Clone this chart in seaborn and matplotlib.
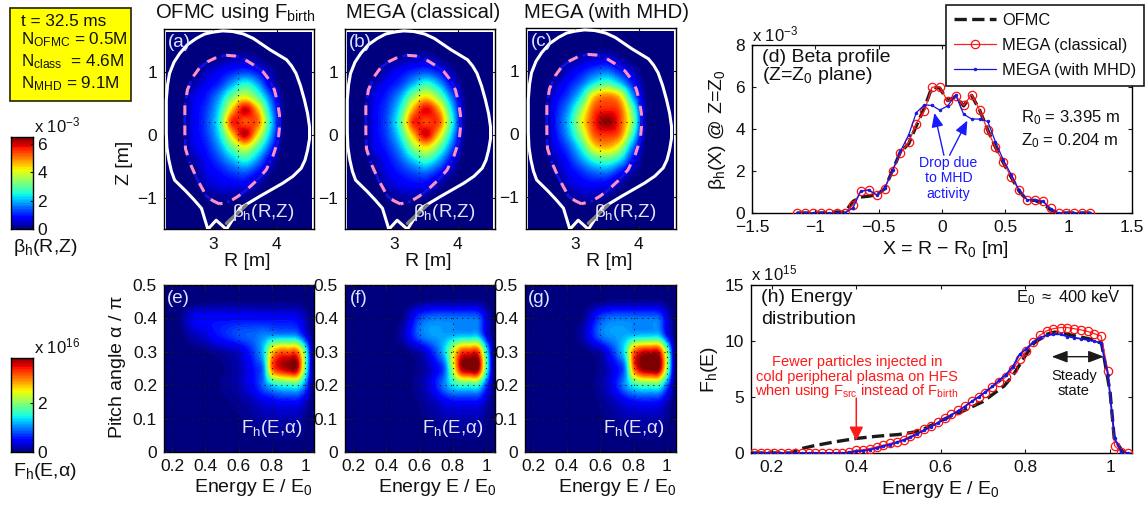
import numpy as np
import matplotlib
matplotlib.use("Agg")
import matplotlib.pyplot as plt
from matplotlib.patches import Rectangle
import seaborn as sns

W, H = 1148, 508

# ---- flux-surface geometry
wall_R = [2.92,2.82,2.70,2.58,2.49,2.40,2.35,2.31,2.28,2.27,2.27,2.29,2.32,2.39,2.48,2.60,2.74,2.87,3.00,3.15,3.31,3.48,3.63,3.76,3.89,4.02,4.15,4.23,4.30,4.37,4.43,4.48,4.51,4.51,4.48,4.44,4.38,4.25,4.09,3.73,3.42,3.21,3.05,2.92]
wall_Z = [-1.505,-1.17,-1.03,-0.90,-0.81,-0.72,-0.58,-0.40,-0.20,0.03,0.56,0.80,0.98,1.16,1.30,1.44,1.54,1.61,1.64,1.66,1.65,1.61,1.54,1.45,1.36,1.28,1.20,1.10,0.98,0.78,0.56,0.34,0.13,-0.06,-0.24,-0.40,-0.53,-0.66,-0.77,-0.98,-1.17,-1.505,-1.36,-1.505]
lcfs_R = [3.10,3.00,2.90,2.76,2.64,2.57,2.56,2.56,2.60,2.69,2.79,2.92,3.06,3.21,3.34,3.47,3.63,3.78,3.88,3.96,4.01,4.04,4.04,4.02,3.94,3.83,3.68,3.52,3.39,3.26,3.10]
lcfs_Z = [-1.10,-1.05,-0.98,-0.72,-0.45,-0.22,0.03,0.45,0.72,0.93,1.07,1.17,1.24,1.27,1.26,1.22,1.12,1.01,0.88,0.72,0.52,0.32,0.12,-0.08,-0.33,-0.56,-0.73,-0.88,-0.98,-1.06,-1.10]

# ---- beta_h(R,Z) grids: columns R = 2.3 ... 4.5 step .2, rows Z = 1.6 ... -1.4 step .2
beta_a = [
[0,0,0,0,0,0,0,0,0,0,0,0],
[0,0,0,0,0,0,0,0,0,0,0,0],
[0,0,0,.05,.15,.35,.4,.2,0,0,0,0],
[0,0,0,.4,.7,1.0,1.2,.9,.3,0,0,0],
[0,0,.3,.7,1.1,1.9,2.6,1.9,.6,0,0,0],
[0,0,.6,1.0,1.8,3.2,4.0,3.0,1.4,.1,0,0],
[0,0,.7,1.2,2.3,4.5,6.0,4.6,2.0,.2,0,0],
[0,0,.7,1.3,2.6,5.6,5.3,5.2,2.4,.2,0,0],
[0,0,.7,1.2,2.3,4.5,6.1,4.3,2.0,.15,0,0],
[0,0,.6,1.0,1.8,3.1,4.1,2.9,1.3,0,0,0],
[0,0,.3,.8,1.3,2.0,2.6,1.8,.6,0,0,0],
[0,0,.1,.6,.9,1.2,1.4,.9,.2,0,0,0],
[0,0,0,.4,.6,.7,.7,.3,0,0,0,0],
[0,0,0,.05,.2,.2,.15,0,0,0,0,0],
[0,0,0,0,0,0,0,0,0,0,0,0],
[0,0,0,0,0,0,0,0,0,0,0,0],
]
beta_b = [
[0,0,0,0,0,0,0,0,0,0,0,0],
[0,0,0,0,0,0,0,0,0,0,0,0],
[0,0,0,.05,.2,.4,.45,.2,0,0,0,0],
[0,0,0,.45,.8,1.1,1.3,.95,.3,0,0,0],
[0,0,.35,.8,1.2,2.0,2.7,2.0,.8,.05,0,0],
[0,0,.65,1.1,1.9,3.4,4.3,3.3,1.6,.15,0,0],
[0,0,.75,1.3,2.5,4.7,5.9,4.8,2.3,.25,0,0],
[0,0,.75,1.4,2.9,5.6,5.4,5.4,2.7,.25,0,0],
[0,0,.75,1.3,2.5,4.6,6.0,4.5,2.2,.2,0,0],
[0,0,.65,1.1,1.9,3.4,4.3,3.2,1.5,.05,0,0],
[0,0,.35,.85,1.4,2.2,2.8,2.0,.8,0,0,0],
[0,0,.15,.65,1.0,1.3,1.5,1.0,.3,0,0,0],
[0,0,0,.4,.65,.8,.75,.3,0,0,0,0],
[0,0,0,.05,.25,.25,.15,0,0,0,0,0],
[0,0,0,0,0,0,0,0,0,0,0,0],
[0,0,0,0,0,0,0,0,0,0,0,0],
]
beta_c = [
[0,0,0,0,0,0,0,0,0,0,0,0],
[0,0,0,0,0,0,0,0,0,0,0,0],
[0,0,0,.1,.3,.5,.55,.25,0,0,0,0],
[0,0,0,.5,.9,1.3,1.5,1.0,.4,0,0,0],
[0,0,.4,.9,1.5,2.4,2.9,2.2,1.0,.1,0,0],
[0,0,.7,1.3,2.4,4.4,5.0,4.4,1.9,.2,0,0],
[0,0,.9,1.8,3.4,5.3,5.6,5.3,3.0,.3,0,0],
[0,0,1.0,2.1,4.0,5.6,6.4,5.5,3.4,.3,0,0],
[0,0,.9,1.9,3.5,5.3,5.6,5.2,2.8,.2,0,0],
[0,0,.7,1.4,2.6,4.3,4.7,3.9,1.7,.1,0,0],
[0,0,.4,1.0,1.8,2.7,3.0,2.4,.9,0,0,0],
[0,0,.2,.7,1.1,1.5,1.6,1.0,.3,0,0,0],
[0,0,0,.45,.7,.8,.7,.3,0,0,0,0],
[0,0,0,.1,.3,.3,.15,0,0,0,0,0],
[0,0,0,0,0,0,0,0,0,0,0,0],
[0,0,0,0,0,0,0,0,0,0,0,0],
]

# ---- F_h(E,alpha) grids: columns E = .15 ... 1.05 step .05, rows alpha = .5 ... 0 step .05
fh_e = [
[0,0,0,0,0,0,0,0,0,0,0,0,0,0,0,0,0,0,0],
[0,0,0,0,.02,.03,.04,.05,.05,.05,.05,.05,.05,.05,.05,.05,.05,.03,0],
[0,0,.08,.3,.45,.5,.5,.5,.5,.5,.5,.5,.5,.5,.5,.5,.45,.25,0],
[0,0,.02,.15,.25,.35,.5,.6,.7,.8,.85,.9,1.0,1.05,1.05,1.05,1.0,.5,0],
[0,0,0,0,.02,.05,.1,.15,.2,.3,.5,.8,1.3,2.6,3.1,3.1,3.1,1.8,0],
[0,0,0,0,0,0,.03,.05,.1,.2,.35,.6,1.0,3.0,3.5,3.7,3.7,1.9,0],
[0,0,0,0,0,0,0,.08,.12,.2,.35,.55,.9,1.3,1.5,1.55,1.6,1.0,0],
[0,0,0,0,0,0,0,.03,.06,.1,.15,.25,.35,.42,.5,.5,.5,.3,0],
[0,0,0,0,0,0,0,0,.03,.05,.08,.12,.17,.2,.2,.2,.2,.1,0],
[0,0,0,0,0,0,0,0,0,.02,.03,.05,.07,.08,.08,.08,.08,.05,0],
[0,0,0,0,0,0,0,0,0,0,0,0,0,0,0,0,0,0,0],
]
fh_f = [
[0,0,0,0,0,0,0,0,0,0,0,0,0,0,0,0,0,0,0],
[0,0,0,0,0,0,0,0,.03,.07,.1,.12,.12,.12,.12,.12,.12,.05,0],
[0,0,0,0,0,0,0,.1,.4,.75,.9,.95,.95,.95,.95,.95,.9,.4,0],
[0,0,0,0,0,0,.05,.2,.55,.9,1.05,1.1,1.1,1.15,1.2,1.2,1.2,.5,0],
[0,0,0,0,0,0,0,.02,.1,.2,.45,.8,1.3,2.3,3.2,3.3,3.3,1.6,0],
[0,0,0,0,0,0,0,0,.03,.1,.2,.45,.85,2.2,3.6,3.85,3.85,1.8,0],
[0,0,0,0,0,0,0,0,.05,.15,.3,.6,1.0,1.4,1.6,1.6,1.6,.8,0],
[0,0,0,0,0,0,0,0,.02,.08,.15,.25,.4,.5,.5,.5,.5,.25,0],
[0,0,0,0,0,0,0,0,.02,.04,.08,.12,.18,.2,.2,.2,.2,.1,0],
[0,0,0,0,0,0,0,0,0,.02,.03,.05,.07,.08,.08,.08,.08,.04,0],
[0,0,0,0,0,0,0,0,0,0,0,0,0,0,0,0,0,0,0],
]
fh_g = [
[0,0,0,0,0,0,0,0,0,0,0,0,0,0,0,0,0,0,0],
[0,0,0,0,0,0,0,0,.03,.07,.1,.12,.12,.12,.12,.12,.12,.05,0],
[0,0,0,0,0,0,0,.1,.4,.75,.9,.95,.95,.95,.95,.95,.9,.4,0],
[0,0,0,0,0,0,.05,.2,.55,.9,1.05,1.1,1.15,1.2,1.25,1.25,1.25,.55,0],
[0,0,0,0,0,0,0,.02,.1,.2,.5,.9,1.5,3.0,3.5,3.55,3.5,2.0,0],
[0,0,0,0,0,0,0,0,.03,.1,.25,.5,1.0,3.0,3.75,3.9,3.85,2.1,0],
[0,0,0,0,0,0,0,0,.05,.15,.3,.6,1.05,1.5,1.7,1.7,1.7,.9,0],
[0,0,0,0,0,0,0,0,.02,.08,.15,.25,.4,.5,.55,.55,.5,.25,0],
[0,0,0,0,0,0,0,0,.02,.04,.08,.12,.18,.2,.2,.2,.2,.1,0],
[0,0,0,0,0,0,0,0,0,.02,.03,.05,.07,.08,.08,.08,.08,.04,0],
[0,0,0,0,0,0,0,0,0,0,0,0,0,0,0,0,0,0,0],
]

# ---- (d) beta profile
x_d = [-1.145,-1.082,-1.019,-0.956,-0.893,-0.829,-0.768,-0.703,-0.642,-0.579,-0.516,-0.453,-0.389,-0.329,-0.263,-0.203,-0.139,-0.079,-0.018,0.045,0.108,0.171,0.234,0.297,0.361,0.421,0.484,0.547,0.608,0.671,0.734,0.797,0.858,0.921,0.982,1.045,1.108,1.171]
ofmc_d = [0,0,0,0,0.02,0.05,0.03,0.55,0.76,0.8,0.87,1.15,2.05,2.9,3.3,4.15,5.0,6.0,5.95,5.35,5.55,5.1,5.6,4.9,3.95,3.15,2.4,1.7,1.05,0.62,0.6,0.45,0.15,0,0,0,0,0]
classical_d = [0,0,0,0,0,0,0,0.37,1.05,1.09,0.84,1.16,2.01,2.85,3.36,4.26,4.87,5.99,6.0,5.32,5.58,5.12,5.64,4.91,3.93,3.12,2.41,1.71,1.08,0.63,0.63,0.57,0.22,0,0,0,0,0]
mhd_d = [0,0,0,0,0,0,0,0.24,1.03,1.1,0.87,1.18,2.06,2.93,3.72,4.78,5.15,5.12,4.9,5.1,5.62,4.7,4.48,4.47,4.36,3.4,2.53,1.82,1.1,0.63,0.63,0.55,0.19,0,0,0,0,0]

# ---- (h) energy distribution
x_h = [.158,.174,.190,.206,.222,.239,.255,.271,.287,.303,.319,.335,.351,.367,.383,.400,.416,.432,.448,.464,.480,.496,.512,.528,.544,.561,.577,.593,.609,.625,.641,.657,.673,.689,.705,.722,.738,.754,.770,.786,.802,.818,.834,.850,.866,.883,.899,.915,.931,.947,.963,.979,.995,1.011,1.027,1.043]
classical_h = [0,0,0,0,0,0,0,0,0,0,0,0,0,0,.1,.25,.3,.4,.55,.7,.85,1.0,1.2,1.5,1.75,2.1,2.4,2.75,3.1,3.45,3.8,4.2,4.6,5.0,5.4,5.9,6.3,6.8,7.5,8.4,9.1,9.9,10.5,10.9,11.1,11.2,11.2,11.1,11.0,10.85,10.65,10.45,7.3,.65,.05,0]
mhd_h = [0,0,0,0,0,0,0,0,0,0,0,0,0,0,.05,.15,.2,.3,.45,.6,.75,.95,1.15,1.4,1.7,2.05,2.35,2.7,3.05,3.4,3.75,4.15,4.6,5.0,5.45,5.95,6.5,7.0,7.7,8.8,9.3,9.9,10.3,10.5,10.6,10.6,10.4,10.3,10.2,10.1,10.0,9.8,7.0,1.3,.1,0]
x_oh = [.15,.25,.26,.30,.35,.40,.45,.50,.55,.60,.65,.70,.75,.77,.80,.82,.85,.87,.90,.95,.98,1.0,1.01,1.03,1.05]
ofmc_h = [0,0,.3,.65,1.0,1.3,1.5,1.65,1.95,2.9,3.7,4.6,6.0,6.9,8.7,9.8,10.6,10.8,10.6,10.2,9.8,5.5,1.3,.1,0]

beta_max = 6.5
fh_max = 3.86

sns.set_theme(style="ticks")
plt.rcParams['font.family'] = ['Liberation Sans', 'DejaVu Sans']
plt.rcParams.update({'mathtext.fontset': 'custom', 'mathtext.rm': 'Liberation Sans',
                     'mathtext.it': 'Liberation Sans', 'mathtext.bf': 'Liberation Sans',
                     'mathtext.default': 'regular', 'axes.linewidth': 1.0,
                     'axes.edgecolor': 'black', 'text.color': '#111111'})
FS = 12.5
BIG = 14
cmap = plt.get_cmap('jet', 64)
DOT = (0, (1, 4))
fig = plt.figure(figsize=(W/100, H/100), dpi=100, facecolor='white')

def pax(x0, y0, x1, y1):
    return fig.add_axes([x0/W, 1-y1/H, (x1-x0)/W, (y1-y0)/H])

def ftxt(x, y, s, size=FS, ha='center', va='center', **kw):
    return fig.text(x/W, 1-y/H, s, fontsize=size, ha=ha, va=va, **kw)

def style(ax):
    ax.tick_params(direction='in', length=3, width=.8, top=True, right=True, labelsize=FS, pad=5, color='k', labelcolor='#111111')

# yellow info box
fig.add_artist(Rectangle((10/W, 1-101/H), 121/W, 93/H, transform=fig.transFigure, fc='#ffff00', ec='#222200', lw=1.2))
ftxt(21, 22, 't = 32.5 ms', ha='left', size=12.3)
ftxt(21, 40, r'N$_{OFMC}$ = 0.5M', ha='left', size=12.3)
ftxt(21, 62, r'N$_{class}$  = 4.6M', ha='left', size=12.3)
ftxt(21, 84, r'N$_{MHD}$ = 9.1M', ha='left', size=12.3)

# top row maps
Rlim = (2.234, 4.58)
Zlim = (-1.5, 1.69)
top = [((164,29,314,229), beta_a, '(a)', r'OFMC using F$_{birth}$', 235),
       ((345,29,495,229), beta_b, '(b)', 'MEGA (classical)', 423),
       ((526,28,676,229), beta_c, '(c)', 'MEGA (with MHD)', 607)]
for (box, grid, tag, title, tx) in top:
    ax = pax(*box)
    ax.imshow(np.array(grid, float), extent=(2.2, 4.6, -1.5, 1.7), vmin=0, vmax=beta_max, cmap=cmap,
              interpolation='catrom', aspect='auto', zorder=0)
    # white margin between the picture and the frame
    for r in [(Rlim[0], Zlim[0], .035, 3.3), (4.55, Zlim[0], .05, 3.3), (Rlim[0], 1.645, 2.4, .06)]:
        ax.add_patch(Rectangle((r[0], r[1]), r[2], r[3], fc='white', ec='none', zorder=.5))
    ax.axvline(3.395, color='k', ls=DOT, lw=.8, zorder=1)
    ax.axhline(0.204, color='k', ls=DOT, lw=.8, zorder=1)
    sns.lineplot(x=wall_R, y=wall_Z, ax=ax, color='white', lw=2.2, sort=False, estimator=None, zorder=3)
    sns.lineplot(x=lcfs_R, y=lcfs_Z, ax=ax, color='#1010e0', lw=2.0, ls='-.', sort=False, estimator=None, zorder=3)
    sns.lineplot(x=lcfs_R, y=lcfs_Z, ax=ax, color='#ff90c0', lw=2.2, sort=False, estimator=None, zorder=4,
                 dashes=(3.2, 3.4))
    sns.lineplot(x=[3.21, 3.52], y=[-1.41, -1.12], ax=ax, color='#808080', lw=2.4, estimator=None, zorder=4)
    ax.set_xlim(*Rlim); ax.set_ylim(*Zlim)
    ax.set_xticks([3, 4]); ax.set_yticks([-1, 0, 1])
    ax.set_yticklabels(['\u22121', '0', '1'])
    ax.set_xlabel(''); ax.set_ylabel('')
    style(ax)
    ax.tick_params(axis='x', pad=6)
    ax.text(2.48, 1.47, tag, color='#dde4ff', fontsize=BIG-.5, ha='center', va='center', zorder=6)
    ax.text(3.78, -1.24, r'$\beta_h$(R,Z)', color='#e4e4f4', fontsize=13.5, ha='center', va='center', zorder=6)
    ftxt(box[0]+83, 262, 'R [m]', size=BIG)
    ftxt(tx, 12, title, size=14.6)
ftxt(125, 163, 'Z [m]', size=BIG, rotation=90)

# bottom row maps
bottom = [((164,285,314,452), fh_e, '(e)', 253), ((345,285,495,452), fh_f, '(f)', 437), ((525,285,676,452), fh_g, '(g)', 617)]
for (box, grid, tag, lx) in bottom:
    ax = pax(*box)
    ax.imshow(np.array(grid, float), extent=(.125, 1.075, -.025, .525), vmin=0, vmax=fh_max, cmap=cmap,
              interpolation='catrom', aspect='auto', zorder=0)
    ax.set_xlim(.15, 1.054); ax.set_ylim(0, .5)
    ax.set_xticks([.2, .4, .6, .8, 1]); ax.set_xticklabels(['0.2', '0.4', '0.6', '0.8', '1'])
    ax.set_yticks([0, .1, .2, .3, .4, .5]); ax.set_yticklabels(['0', '0.1', '0.2', '0.3', '0.4', '0.5'])
    ax.grid(True, color='k', ls=DOT, lw=.8)
    ax.set_axisbelow(False)
    style(ax)
    ax.text(.235, .46, tag, color='#dde4ff', fontsize=BIG-.5, ha='center', va='center')
    ax.text(.8, .07, r'F$_h$(E,$\alpha$)', color='#e4e4f4', fontsize=13.5, ha='center', va='center')
    ftxt(lx, 488, r'Energy E / E$_0$', size=BIG)
ftxt(117, 367, r'Pitch angle $\alpha$ / $\pi$', size=BIG, rotation=90)

# colour bars
for box, vmax, ticks, labs, head, foot in [
        ((11,137,33,229), beta_max, [0,2,4,6], ['0','2','4','6'], r'x 10$^{-3}$', r'$\beta_h$(R,Z)'),
        ((11,358,33,452), fh_max, [0,2], ['0','2'], r'x 10$^{16}$', r'F$_h$(E,$\alpha$)')]:
    cax = pax(*box)
    cax.imshow(np.linspace(1, 0, 64).reshape(-1, 1), extent=(0, 1, 0, vmax), cmap=cmap, aspect='auto', vmin=0, vmax=1, interpolation='nearest')
    cax.set_xticks([]); cax.set_yticks(ticks); cax.set_yticklabels(labs)
    cax.yaxis.tick_right()
    cax.tick_params(direction='in', length=2.5, width=.8, labelsize=FS, pad=3, color='k', labelcolor='#111111')
    ftxt(34, box[1]-12, head, ha='left', size=12)
    ftxt(45, box[3]+19, foot, size=BIG)

# (d)
ax = pax(752, 45, 1132, 213)
sns.lineplot(x=x_d, y=ofmc_d, ax=ax, color='k', lw=2.4, ls='--', estimator=None, label='OFMC', zorder=2)
sns.lineplot(x=x_d, y=classical_d, ax=ax, color='#ff2020', lw=.9, estimator=None, marker='o', ms=6, mfc='none', mec='#ff1010', mew=.9, label='MEGA (classical)', zorder=3)
sns.lineplot(x=x_d, y=mhd_d, ax=ax, color='#1515e0', lw=.9, estimator=None, marker='o', ms=2, mfc='#1515e0', mec='#1515e0', mew=.5, label='MEGA (with MHD)', zorder=4)
ax.set_xlim(-1.5, 1.5); ax.set_ylim(0, 8)
ax.set_xticks([-1.5, -1, -.5, 0, .5, 1, 1.5]); ax.set_xticklabels(['\u22121.5', '\u22121', '\u22120.5', '0', '0.5', '1', '1.5'])
ax.set_yticks([0, 2, 4, 6, 8])
ax.set_xlabel(''); ax.set_ylabel('')
style(ax)
leg = ax.legend(loc='upper left', bbox_to_anchor=(946/W, 1-5/H), bbox_transform=fig.transFigure, fancybox=False, edgecolor='k',
                framealpha=1, fontsize=11.8, borderaxespad=0, handlelength=2.55, labelspacing=.6, handletextpad=.37, borderpad=.5)
leg.get_frame().set_linewidth(1.2)
leg.set_zorder(20)
ftxt(752, 34, r'x 10$^{-3}$', ha='left', size=12)
ftxt(762, 57, '(d) Beta profile', ha='left', size=BIG)
ftxt(762, 75, r'(Z=Z$_0$ plane)', ha='left', size=BIG)
ftxt(1021, 118, r'R$_0$ = 3.395 m', ha='left', size=12)
ftxt(1021, 141, r'Z$_0$ = 0.204 m', ha='left', size=12)
ax.text(.05, 1.65, 'Drop due\nto MHD\nactivity', color='#1a1aff', fontsize=10.2, ha='center', va='center', linespacing=1.15)
for xy, xt in [((-.06, 4.76), (.015, 2.75)), ((.2, 4.4), (.06, 2.75))]:
    ax.annotate('', xy=xy, xytext=xt, arrowprops=dict(arrowstyle='-|>,head_width=.3,head_length=.7', color='#1a1aff', lw=1.0, shrinkA=0, shrinkB=0))
ftxt(718, 130, r'$\beta_h$(X) @ Z=Z$_0$', size=BIG, rotation=90)
ftxt(945, 250, r'X = R $-$ R$_0$ [m]', size=BIG)

# (h)
ax = pax(751, 285, 1132, 453)
sns.lineplot(x=x_oh, y=ofmc_h, ax=ax, color='k', lw=2.4, ls='--', estimator=None, zorder=2)
sns.lineplot(x=x_h, y=classical_h, ax=ax, color='#ff2020', lw=.9, estimator=None, marker='o', ms=6, mfc='none', mec='#ff1010', mew=.9, zorder=3)
sns.lineplot(x=x_h, y=mhd_h, ax=ax, color='#1515e0', lw=1.3, estimator=None, marker='o', ms=2, mfc='#1515e0', mec='#1515e0', mew=.5, zorder=4)
ax.set_xlim(.151, 1.052); ax.set_ylim(0, 15)
ax.set_xticks([.2, .4, .6, .8, 1]); ax.set_xticklabels(['0.2', '0.4', '0.6', '0.8', '1'])
ax.set_yticks([0, 5, 10, 15])
ax.set_xlabel(''); ax.set_ylabel('')
style(ax)
ftxt(751, 273, r'x 10$^{15}$', ha='left', size=12)
ftxt(761, 298, '(h) Energy', ha='left', size=BIG)
ftxt(761, 320, 'distribution', ha='left', size=BIG)
ftxt(1016, 298, r'E$_0$ $\approx$ 400 keV', ha='left', size=12)
ftxt(857, 362, 'Fewer particles injected in', size=10.5, color='#ff1a1a')
ftxt(857, 377, 'cold peripheral plasma on HFS', size=10.5, color='#ff1a1a')
ftxt(857, 391, r'when using F$_{src}$ instead of F$_{birth}$', size=10.5, color='#ff1a1a')
ax.annotate('', xy=(.4, 1.1), xytext=(.4, 4.9), arrowprops=dict(arrowstyle='-|>,head_width=.35,head_length=.7', color='#ff1a1a', lw=1.1, shrinkA=0, shrinkB=0))
ax.annotate('', xy=(.986, 8.6), xytext=(.862, 8.6), arrowprops=dict(arrowstyle='<|-|>,head_width=.3,head_length=.8', color='k', lw=1.0, shrinkA=0, shrinkB=0))
ftxt(1074, 376, 'Steady', size=10.5)
ftxt(1074, 391, 'state', size=10.5)
ftxt(710, 370, r'F$_h$(E)', size=BIG, rotation=90)
ftxt(940, 490, r'Energy E / E$_0$', size=BIG)

fig.savefig('out.png', dpi=100, facecolor='white')
